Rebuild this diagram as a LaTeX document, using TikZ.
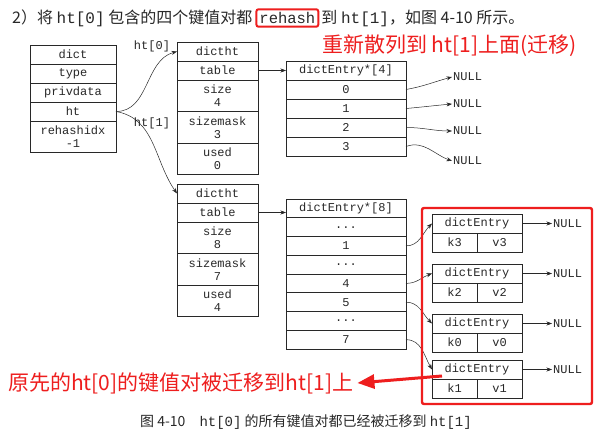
\documentclass[tikz,border=0pt]{standalone}
\usepackage{fontspec}
\setmainfont{Noto Sans CJK SC}
\setmonofont{Liberation Mono}
\usetikzlibrary{positioning,shapes,arrows,arrows.meta}
\definecolor{mark}{RGB}{238,30,30}
\definecolor{ink}{RGB}{40,40,40}

\begin{document}
\begin{tikzpicture}[x=1pt,y=-1pt,
			cell/.style = {draw=ink, line width=0.6pt, minimum width=86pt,
				minimum height=19pt, inner sep=0pt, outer sep=0pt, align=center,
				text=ink, font=\fontsize{12}{13}\selectfont\ttfamily},
			tall/.style = {minimum height=31.5pt},
			htcell/.style = {cell, minimum width=81pt},
			tabcell/.style = {cell, minimum width=120pt},
			entry/.style = {cell, minimum width=90pt},
			half/.style = {cell, minimum width=45pt},
			null/.style = {inner sep=1pt, anchor=west, text=ink,
				font=\fontsize{12}{13}\selectfont\ttfamily},
			link/.style = {draw=ink, line width=0.5pt, -{Stealth[length=5.5pt,width=4pt]}},
			markbox/.style = {draw=mark, line width=2.4pt, rounded corners=2pt}]
			\useasboundingbox[fill=white] (0,0) rectangle (600,435);
			% header
			\node[anchor=west, inner sep=0pt, text=ink, font=\fontsize{16}{18}\selectfont] (hda) at (12,18)
				{2）将 \texttt{ht[0]} 包含的四个键值对都};
			\node[right=3pt of hda, draw=mark, line width=2pt, rounded corners=2pt, inner sep=3pt,
				minimum height=17pt, text=ink, font=\fontsize{15.5}{17}\selectfont\ttfamily] (rehash) {rehash};
			\node[right=2pt of rehash, inner sep=0pt, text=ink, font=\fontsize{16}{18}\selectfont] (hdb)
				{到 \texttt{ht[1]}，如图 4-10 所示。};
			\node[anchor=west, inner sep=0pt, text=mark, font=\fontsize{21}{23}\selectfont] (movetop) at (322,46)
				{重新散列到 ht[1]上面(迁移)};
			% dict
			\node[cell] (dict) at (73,54.5) {dict};
			\node[cell, below=0pt of dict] (dtype) {type};
			\node[cell, below=0pt of dtype] (priv) {privdata};
			\node[cell, below=0pt of priv] (ht) {ht};
			\node[cell, tall, below=0pt of ht] (idx) {rehashidx\\-1};
			% ht[0]
			\node[htcell] (hto) at (217.5,51.5) {dictht};
			\node[htcell, below=0pt of hto] (otable) {table};
			\node[htcell, tall, below=0pt of otable] (osize) {size\\4};
			\node[htcell, tall, below=0pt of osize] (omask) {sizemask\\3};
			\node[htcell, tall, below=0pt of omask] (oused) {used\\0};
			% ht[1]
			\node[htcell] (hti) at (217.5,193.5) {dictht};
			\node[htcell, below=0pt of hti] (itable) {table};
			\node[htcell, tall, below=0pt of itable] (isize) {size\\8};
			\node[htcell, tall, below=0pt of isize] (imask) {sizemask\\7};
			\node[htcell, tall, below=0pt of imask] (iused) {used\\4};
			\node[text=ink, font=\fontsize{12}{13}\selectfont\ttfamily] (lbo) at (152,46) {ht[0]};
			\node[text=ink, font=\fontsize{12}{13}\selectfont\ttfamily] (lbi) at (152,123) {ht[1]};
			\draw[link] (ht.east) to[out=0,in=195] (hto.west);
			\draw[link] (ht.east) to[out=-10,in=125] (hti.west);
			% dictEntry*[4]
			\node[tabcell] (taba) at (346,70.5) {dictEntry*[4]};
			\node[tabcell, below=0pt of taba] (a0) {0};
			\node[tabcell, below=0pt of a0] (a1) {1};
			\node[tabcell, below=0pt of a1] (a2) {2};
			\node[tabcell, below=0pt of a2] (a3) {3};
			\draw[link] (otable.east) -- (taba.west);
			\node[null] (na0) at (452,77) {NULL};
			\node[null] (na1) at (452,104) {NULL};
			\node[null] (na2) at (452,131) {NULL};
			\node[null] (na3) at (452,161) {NULL};
			\draw[link] (a0.east) to[out=10,in=195] (na0.west);
			\draw[link] (a1.east) to[out=5,in=185] (na1.west);
			\draw[link] (a2.east) to[out=0,in=180] (na2.west);
			\draw[link] (a3.east) to[out=20,in=160] (na3.west);
			% dictEntry*[8]
			\node[tabcell, minimum height=18.75pt] (tabb) at (346,208.4) {dictEntry*[8]};
			\node[tabcell, minimum height=18.75pt, below=0pt of tabb] (b0) {...};
			\node[tabcell, minimum height=18.75pt, below=0pt of b0] (b1) {1};
			\node[tabcell, minimum height=18.75pt, below=0pt of b1] (b2) {...};
			\node[tabcell, minimum height=18.75pt, below=0pt of b2] (b4) {4};
			\node[tabcell, minimum height=18.75pt, below=0pt of b4] (b5) {5};
			\node[tabcell, minimum height=18.75pt, below=0pt of b5] (b6) {...};
			\node[tabcell, minimum height=18.75pt, below=0pt of b6] (b7) {7};
			\draw[link] (itable.east) -- (itable.east -| tabb.west);
			% entries
			\foreach \k/\v/\y [count=\i] in {k3/v3/214,k2/v2/264,k0/v0/314,k1/v1/360}
			{
				\node[entry] (e\i) at (477,\y+9.5) {dictEntry};
				\node[half, anchor=north west] (k\i) at (e\i.south west) {\k};
				\node[half, anchor=north east] (v\i) at (e\i.south east) {\v};
				\node[null] (en\i) at (552,\y+9.5) {NULL};
				\draw[link] (e\i.east) -- (en\i.west);
			}
			\draw[link] (b1.east) to[out=0,in=225] (e1.west);
			\draw[link] (b4.east) to[out=0,in=200] (e2.west);
			\draw[link] (b5.east) to[out=0,in=135] (e3.west);
			\draw[link] (b7.east) to[out=0,in=120] (e4.west);
			\draw[markbox] (422,208) rectangle (592,404);
			% note
			\node[anchor=west, inner sep=0pt, text=mark, font=\fontsize{21}{23}\selectfont] (movebot) at (8,383)
				{原先的ht[0]的键值对被迁移到ht[1]上};
			\coordinate (from) at (442,376);
			\draw[draw=mark, line width=3pt, -{Triangle[length=17pt,width=14pt]}] (from) -- ([xshift=4pt]movebot.east);
			% caption
			\node[text=ink, font=\fontsize{14}{16}\selectfont] (cap) at (306,422)
				{图 4-10\quad \texttt{ht[0]} 的所有键值对都已经被迁移到 \texttt{ht[1]}};
\end{tikzpicture}
\end{document}
